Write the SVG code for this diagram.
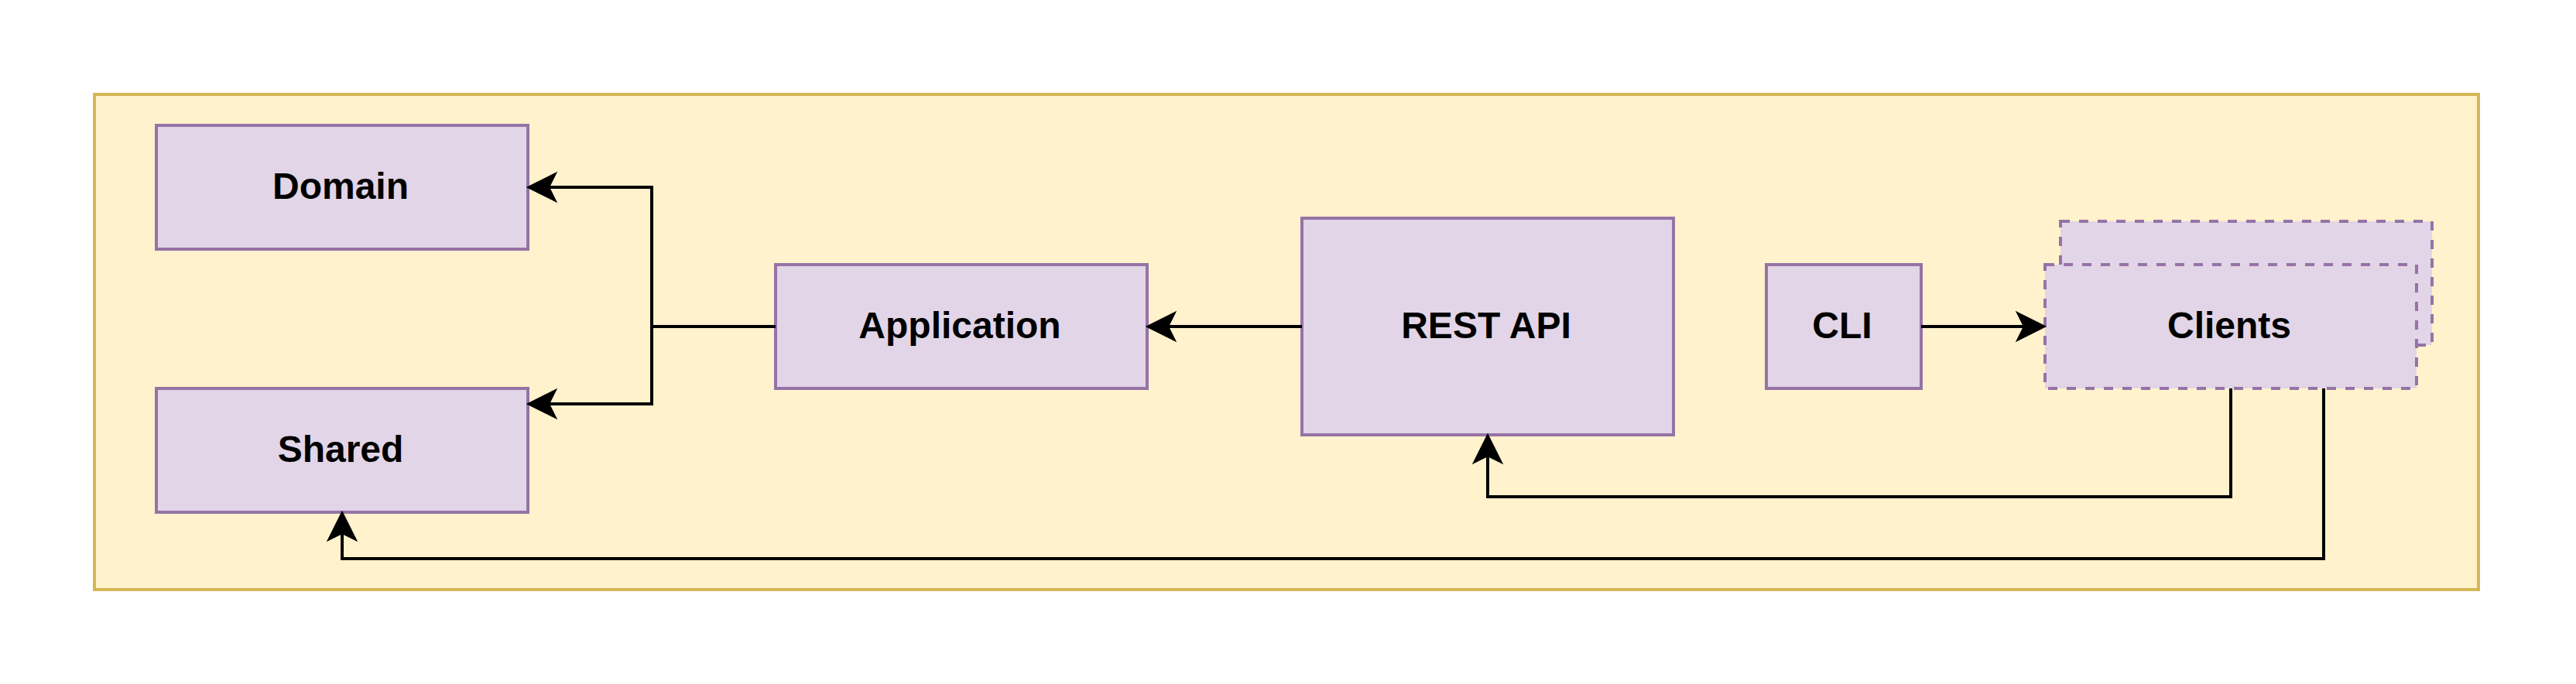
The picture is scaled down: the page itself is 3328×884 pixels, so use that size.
<svg xmlns="http://www.w3.org/2000/svg" width="3328" height="884" viewBox="0 0 3328 884">
  <defs>
    <style>
      .node { fill: #e1d5e7; stroke: #9673a6; stroke-width: 4; }
      .dashed { stroke-dasharray: 12 12; }
      .label { font-family: "Liberation Sans", Arial, sans-serif; font-weight: bold; font-size: 48px; fill: #000000; text-anchor: middle; }
      .edge { fill: none; stroke: #000000; stroke-width: 4; stroke-linejoin: miter; }
    </style>
    <marker id="arrow" markerUnits="userSpaceOnUse" markerWidth="44" markerHeight="44" viewBox="-12 -22 44 44" refX="0" refY="0" orient="auto">
      <path d="M27,0 L-9,-18 L0,0 L-9,18 Z" fill="#000000" stroke="#000000" stroke-width="2" stroke-linejoin="miter"/>
    </marker>
  </defs>
  <rect width="3328" height="884" fill="#ffffff"/>
  <g id="container">
    <rect x="122" y="122" width="3080" height="640" fill="#fff2cc" stroke="#d6b656" stroke-width="4"/>
  </g>
  <g id="domain">
    <rect class="node" x="202" y="162" width="480" height="160"/>
    <text class="label" x="440" y="257">Domain</text>
  </g>
  <g id="shared">
    <rect class="node" x="202" y="502" width="480" height="160"/>
    <text class="label" x="440" y="597">Shared</text>
  </g>
  <g id="application">
    <rect class="node" x="1002" y="342" width="480" height="160"/>
    <text class="label" x="1240" y="437">Application</text>
  </g>
  <g id="rest-api">
    <rect class="node" x="1682" y="282" width="480" height="280"/>
    <text class="label" x="1920" y="437">REST API</text>
  </g>
  <g id="cli">
    <rect class="node" x="2282" y="342" width="200" height="160"/>
    <text class="label" x="2380" y="437">CLI</text>
  </g>
  <g id="clients">
    <rect class="node dashed" x="2662" y="286" width="480" height="160"/>
    <rect class="node dashed" x="2642" y="342" width="480" height="160"/>
    <text class="label" x="2880" y="437">Clients</text>
  </g>
  <g id="connectors">
    <path class="edge" d="M1002,422 L842,422 L842,242 L709,242" marker-end="url(#arrow)"/>
    <path class="edge" d="M1002,422 L842,422 L842,522 L709,522" marker-end="url(#arrow)"/>
    <path class="edge" d="M1682,422 L1509,422" marker-end="url(#arrow)"/>
    <path class="edge" d="M2482,422 L2615,422" marker-end="url(#arrow)"/>
    <path class="edge" d="M2882,502 L2882,642 L1922,642 L1922,589" marker-end="url(#arrow)"/>
    <path class="edge" d="M3002,502 L3002,722 L442,722 L442,689" marker-end="url(#arrow)"/>
  </g>
</svg>
